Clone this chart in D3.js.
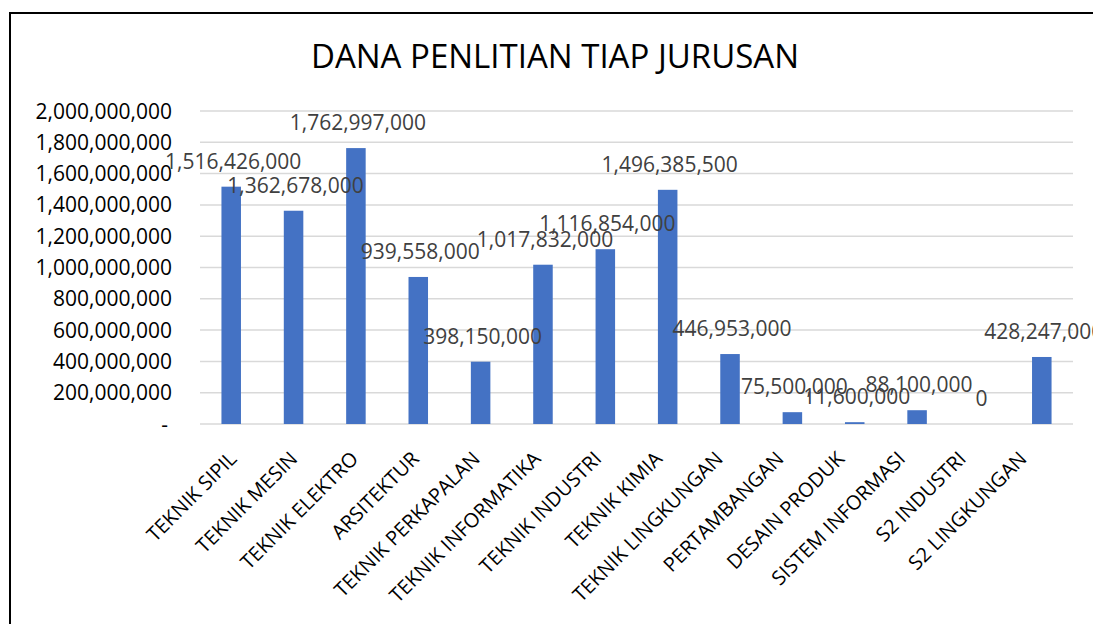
<!DOCTYPE html>
<html>
<head>
<meta charset="utf-8">
<script src="https://cdn.jsdelivr.net/npm/d3@7"></script>
<style>
  body { margin: 0; background: #fff; }
  text { font-family: "Open Sans", sans-serif; }
</style>
</head>
<body>
<div id="chart"></div>
<script>
var jurusan = ['TEKNIK SIPIL', 'TEKNIK MESIN', 'TEKNIK ELEKTRO', 'ARSITEKTUR',
  'TEKNIK PERKAPALAN', 'TEKNIK INFORMATIKA', 'TEKNIK INDUSTRI', 'TEKNIK KIMIA',
  'TEKNIK LINGKUNGAN', 'PERTAMBANGAN', 'DESAIN PRODUK', 'SISTEM INFORMASI',
  'S2 INDUSTRI', 'S2 LINGKUNGAN'];
var dana = [1516426000, 1362678000, 1762997000, 939558000,
  398150000, 1017832000, 1116854000, 1496385500,
  446953000, 75500000, 11600000, 88100000,
  0, 428247000];
var yTicks = [0, 200000000, 400000000, 600000000, 800000000, 1000000000,
  1200000000, 1400000000, 1600000000, 1800000000, 2000000000];
var title = 'DANA PENLITIAN TIAP JURUSAN';

var width = 1093, height = 624;
var svg = d3.select('#chart').append('svg')
  .attr('width', width)
  .attr('height', height);

// chart frame (right and bottom edges fall outside the picture)
svg.append('rect')
  .attr('x', 10).attr('y', 13)
  .attr('width', 1200).attr('height', 700)
  .attr('fill', 'none')
  .attr('stroke', '#000')
  .attr('stroke-width', 2);

svg.append('text')
  .attr('x', 555).attr('y', 68)
  .attr('text-anchor', 'middle')
  .attr('font-size', 33)
  .attr('fill', '#000')
  .text(title);

var x = d3.scaleBand()
  .domain(jurusan)
  .range([200, 1073])
  .paddingInner(0.687)
  .paddingOuter(0.344);

var y = d3.scaleLinear()
  .domain([0, 2000000000])
  .range([424, 111]);

var fmt = d3.format(',');

// gridlines
svg.append('g').selectAll('line').data(yTicks)
  .enter().append('line')
  .attr('x1', 200).attr('x2', 1073)
  .attr('y1', function(d) { return y(d); })
  .attr('y2', function(d) { return y(d); })
  .attr('stroke', '#d9d9d9')
  .attr('stroke-width', 1.5);

// y labels
svg.append('g').selectAll('text').data(yTicks)
  .enter().append('text')
  .attr('x', function(d) { return d === 0 ? 168 : 172; })
  .attr('y', function(d) { return y(d) + 7.5; })
  .attr('text-anchor', 'end')
  .attr('font-size', 21)
  .attr('fill', '#000')
  .text(function(d) { return d === 0 ? '-' : fmt(d); });

// bars
svg.append('g').selectAll('rect').data(jurusan)
  .enter().append('rect')
  .attr('x', function(d) { return x(d); })
  .attr('width', x.bandwidth())
  .attr('y', function(d, i) { return y(dana[i]); })
  .attr('height', function(d, i) { return 424 - y(dana[i]); })
  .attr('fill', '#4472c4');

// data labels
svg.append('g').selectAll('text').data(jurusan)
  .enter().append('text')
  .attr('x', function(d) { return x(d) + x.bandwidth() / 2 + 2; })
  .attr('y', function(d, i) { return y(dana[i]) - 18; })
  .attr('text-anchor', 'middle')
  .attr('font-size', 21)
  .attr('fill', '#404040')
  .text(function(d, i) { return fmt(dana[i]); });

// category labels (Excel packs them slightly tighter than the bars)
var xLabel = d3.scalePoint()
  .domain(jurusan)
  .range([238, 1028]);

svg.append('g').selectAll('text').data(jurusan)
  .enter().append('text')
  .attr('transform', function(d) {
    return 'translate(' + xLabel(d) + ',460) rotate(-45)';
  })
  .attr('text-anchor', 'end')
  .attr('font-size', 20)
  .attr('fill', '#000')
  .text(function(d) { return d; });
</script>
</body>
</html>
